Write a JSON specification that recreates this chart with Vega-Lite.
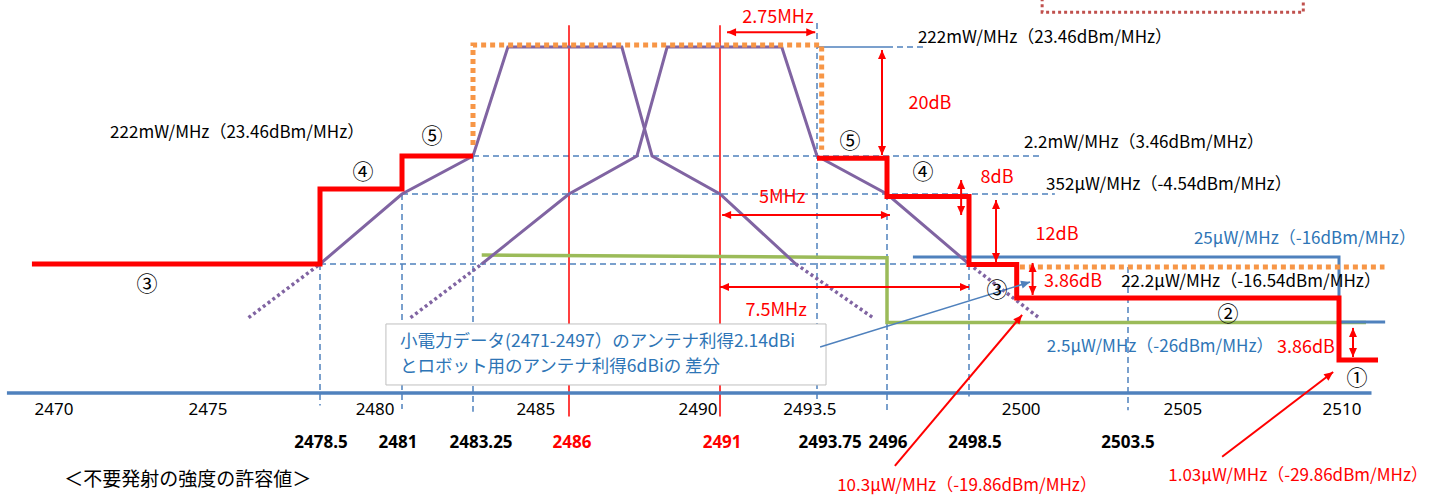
{
  "$schema": "https://vega.github.io/schema/vega-lite/v6.json",
  "width": 1445,
  "height": 497,
  "autosize": "none",
  "padding": 0,
  "background": "white",
  "config": {"view": {"stroke": null}},
  "datasets": {
    "dash": [
      {"f": 2478.5, "p": -16.54, "f2": 2478.5, "p2": -36.8},
      {"f": 2481, "p": -4.54, "f2": 2481, "p2": -37.3},
      {"f": 2483.25, "p": 3.46, "f2": 2483.25, "p2": -37.7},
      {"f": 2493.75, "p": 27.9, "f2": 2493.75, "p2": -36.0},
      {"f": 2496, "p": -4.54, "f2": 2496, "p2": -37.5},
      {"f": 2498.5, "p": -16.54, "f2": 2498.5, "p2": -35.5},
      {"f": 2503.5, "p": -16.83, "f2": 2503.5, "p2": -37.5},
      {"f": 2483.25, "p": 3.46, "f2": 2500.8, "p2": 3.46},
      {"f": 2481, "p": -4.54, "f2": 2501.2, "p2": -4.54},
      {"f": 2478.5, "p": -16.54, "f2": 2498.5, "p2": -16.54},
      {"f": 2496.0, "p": 23.46, "f2": 2497.2, "p2": 23.46}
    ],
    "redV": [
      {"f": 2486, "p": 27.5, "p2": -38.4},
      {"f": 2491, "p": 27.5, "p2": -38.4}
    ],
    "baseline": [{"f": 2468.86, "f2": 2511.0, "p": -35}],
    "blueThin": [{"f": 2493.75, "f2": 2496.0, "p": 23.46}],
    "green": [
      {"o": 1, "f": 2483.5, "p": -15.64},
      {"o": 2, "f": 2496, "p": -16.05},
      {"o": 3, "f": 2496, "p": -26.05},
      {"o": 4, "f": 2510.83, "p": -26.05}
    ],
    "blueLvl": [
      {"o": 1, "f": 2496.79, "p": -16},
      {"o": 2, "f": 2510, "p": -16},
      {"o": 3, "f": 2510, "p": -26},
      {"o": 4, "f": 2511.42, "p": -26}
    ],
    "purpleSolid": [
      {"g": "ch1", "o": 1, "f": 2478.5, "p": -16.54},
      {"g": "ch1", "o": 2, "f": 2481, "p": -4.54},
      {"g": "ch1", "o": 3, "f": 2483.25, "p": 3.46},
      {"g": "ch1", "o": 4, "f": 2484.25, "p": 23.46},
      {"g": "ch1", "o": 5, "f": 2487.75, "p": 23.46},
      {"g": "ch1", "o": 6, "f": 2488.75, "p": 3.46},
      {"g": "ch1", "o": 7, "f": 2491, "p": -4.54},
      {"g": "ch1", "o": 8, "f": 2493.15, "p": -16.54},
      {"g": "ch2", "o": 1, "f": 2483.5, "p": -16.54},
      {"g": "ch2", "o": 2, "f": 2486, "p": -4.54},
      {"g": "ch2", "o": 3, "f": 2488.25, "p": 3.46},
      {"g": "ch2", "o": 4, "f": 2489.25, "p": 23.46},
      {"g": "ch2", "o": 5, "f": 2492.75, "p": 23.46},
      {"g": "ch2", "o": 6, "f": 2493.75, "p": 3.46},
      {"g": "ch2", "o": 7, "f": 2496, "p": -4.54},
      {"g": "ch2", "o": 8, "f": 2498.5, "p": -16.54}
    ],
    "purpleDot": [
      {"g": "a", "o": 1, "f": 2476.3, "p": -24.9},
      {"g": "a", "o": 2, "f": 2478.5, "p": -16.54},
      {"g": "b", "o": 1, "f": 2493.15, "p": -16.54},
      {"g": "b", "o": 2, "f": 2495.55, "p": -24.9},
      {"g": "c", "o": 1, "f": 2481.27, "p": -24.9},
      {"g": "c", "o": 2, "f": 2483.5, "p": -16.54},
      {"g": "d", "o": 1, "f": 2498.5, "p": -16.54},
      {"g": "d", "o": 2, "f": 2500.73, "p": -25.1}
    ],
    "orange": [
      {"g": "chan", "o": 1, "f": 2483.25, "p": 5.5},
      {"g": "chan", "o": 2, "f": 2483.25, "p": 23.83},
      {"g": "chan", "o": 3, "f": 2493.9, "p": 23.83},
      {"g": "chan", "o": 4, "f": 2493.9, "p": 4.6},
      {"g": "low", "o": 1, "f": 2500.1, "p": -16.83},
      {"g": "low", "o": 2, "f": 2511.4, "p": -16.83}
    ],
    "redMask": [
      {"g": "L", "o": 1, "f": 2469.63, "p": -16.54},
      {"g": "L", "o": 2, "f": 2478.5, "p": -16.54},
      {"g": "L", "o": 3, "f": 2478.5, "p": -3.5},
      {"g": "L", "o": 4, "f": 2481, "p": -3.5},
      {"g": "L", "o": 5, "f": 2481, "p": 3.46},
      {"g": "L", "o": 6, "f": 2483.25, "p": 3.46},
      {"g": "R", "o": 1, "f": 2493.75, "p": 3.0},
      {"g": "R", "o": 2, "f": 2496, "p": 3.0},
      {"g": "R", "o": 3, "f": 2496, "p": -5.0},
      {"g": "R", "o": 4, "f": 2498.5, "p": -5.0},
      {"g": "R", "o": 5, "f": 2498.5, "p": -16.6},
      {"g": "R", "o": 6, "f": 2500, "p": -16.6},
      {"g": "R", "o": 7, "f": 2500, "p": -19.86},
      {"g": "R", "o": 8, "f": 2510, "p": -19.86},
      {"g": "R", "o": 9, "f": 2510, "p": -29.86},
      {"g": "R", "o": 10, "f": 2511.2, "p": -29.86}
    ],
    "textBox": [{"f": 2480.51, "f2": 2494.04, "p": -26.2, "p2": -33.75}],
    "topBox": [{"f": 2500.8, "f2": 2508.9, "p": 29.88, "p2": 40}],
    "shafts": [
      {"f": 2491.2, "p": 26.2, "f2": 2493.7, "p2": 26.2},
      {"f": 2495.84, "p": 22.9, "f2": 2495.84, "p2": 3.64},
      {"f": 2498.26, "p": -1.59, "f2": 2498.26, "p2": -8.36},
      {"f": 2499.35, "p": -5.63, "f2": 2499.35, "p2": -16.39},
      {"f": 2500.5, "p": -16.46, "f2": 2500.5, "p2": -19.57},
      {"f": 2510.43, "p": -26.6, "f2": 2510.43, "p2": -29.56},
      {"f": 2491.06, "p": -8.36, "f2": 2496.09, "p2": -8.36},
      {"f": 2491, "p": -18.79, "f2": 2498.5, "p2": -18.79},
      {"f": 2496.24, "p": -45.5, "f2": 2500.17, "p2": -24.2},
      {"f": 2506.4, "p": -44.2, "f2": 2509.82, "p2": -31.73}
    ],
    "heads": [
      {"f": 2491.2, "p": 26.2, "d": "l"},
      {"f": 2493.7, "p": 26.2, "d": "r"},
      {"f": 2495.84, "p": 22.9, "d": "u"},
      {"f": 2495.84, "p": 3.64, "d": "d"},
      {"f": 2498.26, "p": -1.59, "d": "u"},
      {"f": 2498.26, "p": -8.36, "d": "d"},
      {"f": 2499.35, "p": -5.63, "d": "u"},
      {"f": 2499.35, "p": -16.39, "d": "d"},
      {"f": 2500.5, "p": -16.46, "d": "u"},
      {"f": 2500.5, "p": -19.57, "d": "d"},
      {"f": 2510.43, "p": -26.6, "d": "u"},
      {"f": 2510.43, "p": -29.56, "d": "d"},
      {"f": 2491.06, "p": -8.36, "d": "l"},
      {"f": 2496.09, "p": -8.36, "d": "r"},
      {"f": 2491, "p": -18.79, "d": "l"},
      {"f": 2498.5, "p": -18.79, "d": "r"},
      {"f": 2500.17, "p": -24.2, "d": "c1"},
      {"f": 2509.82, "p": -31.73, "d": "c2"}
    ],
    "blueShaft": [{"f": 2493.85, "p": -28.54, "f2": 2500.42, "p2": -18.3}],
    "blueHead": [{"f": 2500.42, "p": -18.3, "d": "c3"}],
    "tBlack": [
      {"f": 2475.95, "p": 7.68, "t": "222mW/MHz（23.46dBm/MHz）"},
      {"f": 2500.89, "p": 25.11, "t": "222mW/MHz（23.46dBm/MHz）"},
      {"f": 2503.99, "p": 5.85, "t": "2.2mW/MHz（3.46dBm/MHz）"},
      {"f": 2504.76, "p": -2.65, "t": "352μW/MHz（-4.54dBm/MHz）"},
      {"f": 2507.29, "p": -18.3, "t": "22.2μW/MHz（-16.54dBm/MHz）"}
    ],
    "tBlue": [
      {"f": 2508.95, "p": -12.73, "t": "25μW/MHz（-16dBm/MHz）"},
      {"f": 2504.49, "p": -28.54, "t": "2.5μW/MHz（-26dBm/MHz）"}
    ],
    "tRed17": [
      {"f": 2498.44, "p": -48.42, "t": "10.3μW/MHz（-19.86dBm/MHz）"},
      {"f": 2508.74, "p": -46.98, "t": "1.03μW/MHz（-29.86dBm/MHz）"}
    ],
    "tRed18": [
      {"f": 2492.64, "p": 28.78, "t": "2.75MHz"},
      {"f": 2497.31, "p": 13.0, "t": "20dB"},
      {"f": 2499.38, "p": -1.17, "t": "8dB"},
      {"f": 2501.27, "p": -11.99, "t": "12dB"},
      {"f": 2501.77, "p": -18.3, "t": "3.86dB"},
      {"f": 2508.98, "p": -28.64, "t": "3.86dB"},
      {"f": 2492.76, "p": -5.27, "t": "5MHz"},
      {"f": 2492.59, "p": -23.18, "t": "7.5MHz"}
    ],
    "tTick": [
      {"f": 2470.31, "p": -37.45, "t": "2470"},
      {"f": 2475.05, "p": -37.45, "t": "2475"},
      {"f": 2480.18, "p": -37.45, "t": "2480"},
      {"f": 2485.05, "p": -37.45, "t": "2485"},
      {"f": 2490.27, "p": -37.45, "t": "2490"},
      {"f": 2493.55, "p": -37.45, "t": "2493.5"},
      {"f": 2500.14, "p": -37.45, "t": "2500"},
      {"f": 2505.19, "p": -37.45, "t": "2505"},
      {"f": 2510.09, "p": -37.45, "t": "2510"}
    ],
    "tBold": [
      {"f": 2478.53, "p": -42.2, "t": "2478.5"},
      {"f": 2480.88, "p": -42.2, "t": "2481"},
      {"f": 2483.48, "p": -42.2, "t": "2483.25"},
      {"f": 2494.17, "p": -42.2, "t": "2493.75"},
      {"f": 2496.03, "p": -42.2, "t": "2496"},
      {"f": 2498.69, "p": -42.2, "t": "2498.5"},
      {"f": 2503.5, "p": -42.2, "t": "2503.5"}
    ],
    "tBoldRed": [
      {"f": 2486.1, "p": -42.2, "t": "2486"},
      {"f": 2491.06, "p": -42.2, "t": "2491"}
    ],
    "tCirc": [
      {"f": 2481.95, "p": 6.95, "t": "⑤"},
      {"f": 2479.81, "p": -0.12, "t": "④"},
      {"f": 2473.17, "p": -18.59, "t": "③"},
      {"f": 2494.81, "p": 6.03, "t": "⑤"},
      {"f": 2497.1, "p": -0.12, "t": "④"},
      {"f": 2499.38, "p": -19.18, "t": "③"},
      {"f": 2506.58, "p": -24.2, "t": "②"},
      {"f": 2510.55, "p": -32.82, "t": "①"}
    ],
    "tCaption": [{"f": 2474.43, "p": -47.55, "t": "＜不要発射の強度の許容値＞"}],
    "tBox": [
      {"f": 2480.94, "p": -28.03, "t": "小電力データ(2471-2497）のアンテナ利得2.14dBi"},
      {"f": 2480.94, "p": -30.95, "t": "とロボット用のアンテナ利得6dBiの 差分"}
    ]
  },
  "encoding": {
    "x": {"field": "f", "type": "quantitative", "axis": null,
      "scale": {"type": "linear", "zero": false, "nice": false,
        "domain": [2468, 2478.5, 2481, 2483.25, 2486, 2491, 2493.75, 2496, 2498.5, 2503.5, 2510, 2514],
        "range": [-21, 320, 402, 473, 569, 720, 817, 887, 969, 1128, 1339, 1469]}},
    "y": {"field": "p", "type": "quantitative", "axis": null,
      "scale": {"type": "linear", "zero": false, "nice": false,
        "domain": [-50, -35, -29.86, -26, -19.86, -16.54, -16, -4.54, 3.46, 23.46, 32.16],
        "range": [497, 393, 360, 322, 298, 264, 257, 194, 156, 47, 0]}}
  },
  "layer": [
    {"data": {"name": "dash"}, "mark": {"type": "rule", "color": "#4F81BD", "strokeWidth": 1.5, "strokeDash": [6, 4]},
     "encoding": {"x2": {"field": "f2"}, "y2": {"field": "p2"}}},
    {"data": {"name": "redV"}, "mark": {"type": "rule", "color": "#FF0000", "strokeWidth": 1.5},
     "encoding": {"y2": {"field": "p2"}}},
    {"data": {"name": "baseline"}, "mark": {"type": "rule", "color": "#4F81BD", "strokeWidth": 3.5},
     "encoding": {"x2": {"field": "f2"}}},
    {"data": {"name": "blueThin"}, "mark": {"type": "rule", "color": "#4F81BD", "strokeWidth": 1.5},
     "encoding": {"x2": {"field": "f2"}}},
    {"data": {"name": "green"}, "mark": {"type": "line", "color": "#9BBB59", "strokeWidth": 3.5, "strokeJoin": "miter"},
     "encoding": {"order": {"field": "o", "type": "quantitative"}}},
    {"data": {"name": "blueLvl"}, "mark": {"type": "line", "color": "#4F81BD", "strokeWidth": 3, "strokeJoin": "miter"},
     "encoding": {"order": {"field": "o", "type": "quantitative"}}},
    {"data": {"name": "purpleSolid"}, "mark": {"type": "line", "color": "#8064A2", "strokeWidth": 3},
     "encoding": {"detail": {"field": "g"}, "order": {"field": "o", "type": "quantitative"}}},
    {"data": {"name": "purpleDot"}, "mark": {"type": "line", "color": "#8064A2", "strokeWidth": 3.5, "strokeDash": [3, 3]},
     "encoding": {"detail": {"field": "g"}, "order": {"field": "o", "type": "quantitative"}}},
    {"data": {"name": "orange"}, "mark": {"type": "line", "color": "#F79646", "strokeWidth": 5, "strokeDash": [5, 4], "strokeJoin": "miter"},
     "encoding": {"detail": {"field": "g"}, "order": {"field": "o", "type": "quantitative"}}},
    {"data": {"name": "redMask"}, "mark": {"type": "line", "color": "#FF0000", "strokeWidth": 5, "strokeJoin": "miter"},
     "encoding": {"detail": {"field": "g"}, "order": {"field": "o", "type": "quantitative"}}},
    {"data": {"name": "textBox"}, "mark": {"type": "rect", "fill": "white", "stroke": "#BFBFBF", "strokeWidth": 1},
     "encoding": {"x2": {"field": "f2"}, "y2": {"field": "p2"}}},
    {"data": {"name": "topBox"}, "mark": {"type": "rect", "fill": "white", "fillOpacity": 0, "stroke": "#C0504D", "strokeWidth": 3, "strokeDash": [3, 3]},
     "encoding": {"x2": {"field": "f2"}, "y2": {"field": "p2"}}},
    {"data": {"name": "shafts"}, "mark": {"type": "rule", "color": "#FF0000", "strokeWidth": 2},
     "encoding": {"x2": {"field": "f2"}, "y2": {"field": "p2"}}},
    {"data": {"name": "heads"}, "mark": {"type": "point", "filled": true, "color": "#FF0000", "size": 4, "opacity": 1, "strokeWidth": 0},
     "encoding": {"shape": {"field": "d", "type": "nominal", "legend": null,
       "scale": {"domain": ["l", "r", "u", "d", "c1", "c2", "c3"],
         "range": ["M0,0L9,-4L9,4Z", "M0,0L-9,-4L-9,4Z", "M0,0L-4,9L4,9Z", "M0,0L-4,-9L4,-9Z", "M0,0L-8.86,4.31L-2.74,9.46Z", "M0,0L-9.58,2.29L-4.72,8.64Z", "M0,0L-9.78,-1.16L-7.42,6.48Z"]}}}},
    {"data": {"name": "blueShaft"}, "mark": {"type": "rule", "color": "#4F81BD", "strokeWidth": 1.5},
     "encoding": {"x2": {"field": "f2"}, "y2": {"field": "p2"}}},
    {"data": {"name": "blueHead"}, "mark": {"type": "point", "filled": true, "color": "#4F81BD", "size": 4, "opacity": 1, "strokeWidth": 0},
     "encoding": {"shape": {"field": "d", "type": "nominal", "legend": null,
       "scale": {"domain": ["l", "r", "u", "d", "c1", "c2", "c3"],
         "range": ["M0,0L9,-4L9,4Z", "M0,0L-9,-4L-9,4Z", "M0,0L-4,9L4,9Z", "M0,0L-4,-9L4,-9Z", "M0,0L-8.86,4.31L-2.74,9.46Z", "M0,0L-9.58,2.29L-4.72,8.64Z", "M0,0L-9.78,-1.16L-7.42,6.48Z"]}}}},
    {"data": {"name": "tBlack"}, "mark": {"type": "text", "font": "Noto Sans CJK JP", "fontSize": 17, "color": "#000000", "align": "center", "baseline": "middle"},
     "encoding": {"text": {"field": "t"}}},
    {"data": {"name": "tBlue"}, "mark": {"type": "text", "font": "Noto Sans CJK JP", "fontSize": 17, "color": "#2E75B6", "align": "center", "baseline": "middle"},
     "encoding": {"text": {"field": "t"}}},
    {"data": {"name": "tRed17"}, "mark": {"type": "text", "font": "Noto Sans CJK JP", "fontSize": 17, "color": "#FF0000", "align": "center", "baseline": "middle"},
     "encoding": {"text": {"field": "t"}}},
    {"data": {"name": "tRed18"}, "mark": {"type": "text", "font": "Noto Sans CJK JP", "fontSize": 18, "color": "#FF0000", "align": "center", "baseline": "middle"},
     "encoding": {"text": {"field": "t"}}},
    {"data": {"name": "tTick"}, "mark": {"type": "text", "font": "Noto Sans", "fontSize": 17, "color": "#000000", "align": "center", "baseline": "middle"},
     "encoding": {"text": {"field": "t"}}},
    {"data": {"name": "tBold"}, "mark": {"type": "text", "font": "Noto Sans", "fontSize": 17, "fontWeight": "bold", "color": "#000000", "align": "center", "baseline": "middle"},
     "encoding": {"text": {"field": "t"}}},
    {"data": {"name": "tBoldRed"}, "mark": {"type": "text", "font": "Noto Sans", "fontSize": 17, "fontWeight": "bold", "color": "#FF0000", "align": "center", "baseline": "middle"},
     "encoding": {"text": {"field": "t"}}},
    {"data": {"name": "tCirc"}, "mark": {"type": "text", "font": "Noto Sans CJK JP", "fontSize": 21, "color": "#000000", "align": "center", "baseline": "middle"},
     "encoding": {"text": {"field": "t"}}},
    {"data": {"name": "tCaption"}, "mark": {"type": "text", "font": "Noto Sans CJK JP", "fontSize": 19, "color": "#000000", "align": "center", "baseline": "middle"},
     "encoding": {"text": {"field": "t"}}},
    {"data": {"name": "tBox"}, "mark": {"type": "text", "font": "Noto Sans CJK JP", "fontSize": 17.5, "color": "#2E75B6", "align": "left", "baseline": "middle"},
     "encoding": {"text": {"field": "t"}}}
  ]
}
